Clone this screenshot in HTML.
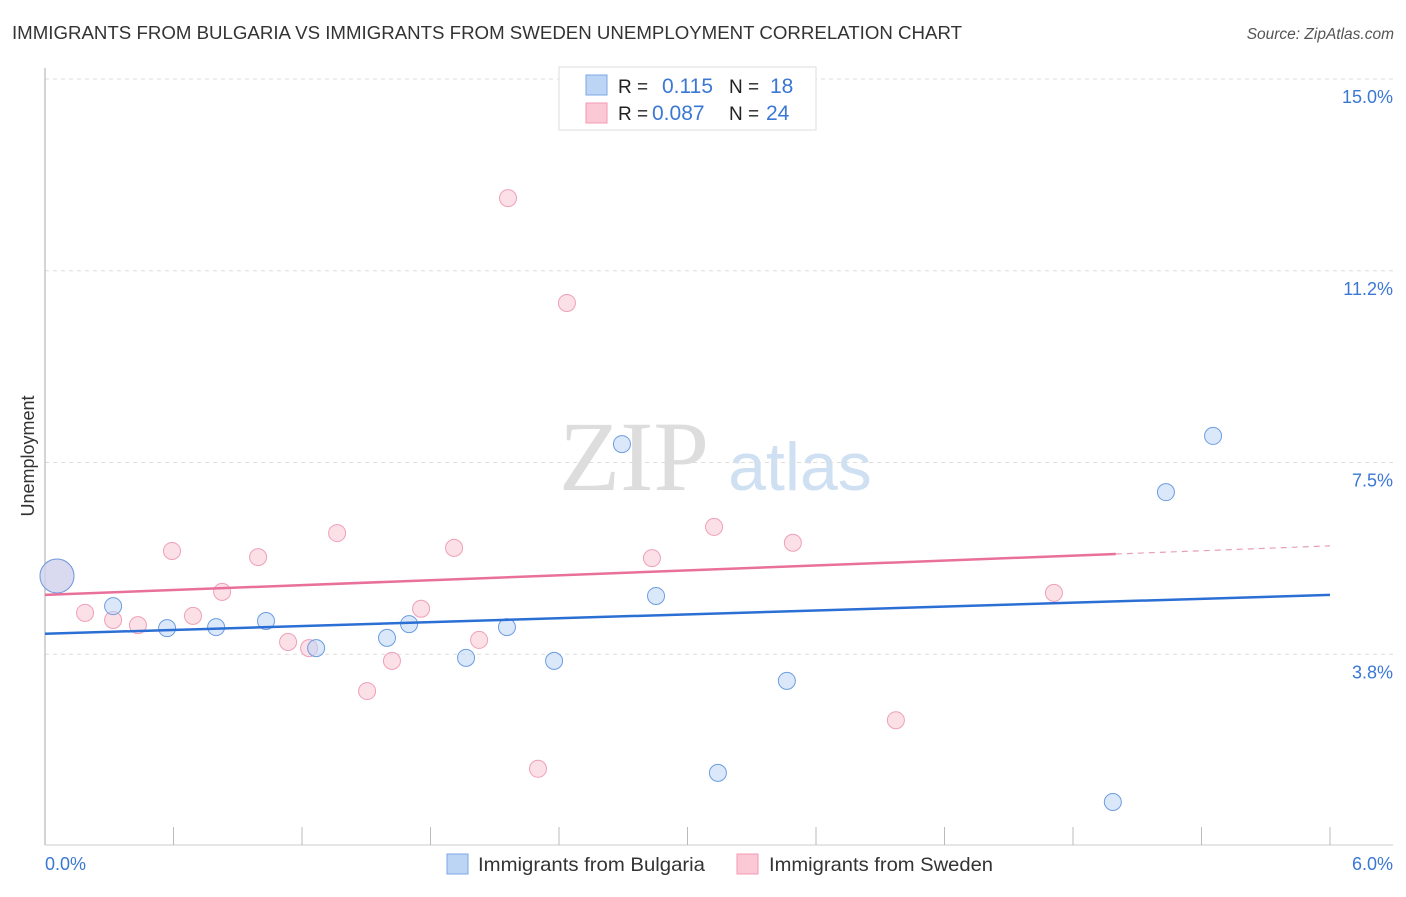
<!DOCTYPE html>
<html><head><meta charset="utf-8"><style>
body{margin:0;background:#fff;font-family:"Liberation Sans",sans-serif;}
svg text{font-family:"Liberation Sans",sans-serif;}
</style></head><body>
<svg width="1406" height="892" xmlns="http://www.w3.org/2000/svg" id="chart">
<text x="12" y="39" font-size="18" fill="#333" textLength="950" lengthAdjust="spacingAndGlyphs">IMMIGRANTS FROM BULGARIA VS IMMIGRANTS FROM SWEDEN UNEMPLOYMENT CORRELATION CHART</text>
<text x="1394" y="39" font-size="15.5" font-style="italic" fill="#555" text-anchor="end">Source: ZipAtlas.com</text>
<text x="634" y="490" font-size="100" style="font-family:'Liberation Serif',serif" fill="#ddd" text-anchor="middle">ZIP</text>
<text x="800" y="490" font-size="68" fill="#cfe0f3" text-anchor="middle">atlas</text>
<text transform="translate(34,456) rotate(-90)" font-size="18" fill="#333" text-anchor="middle">Unemployment</text>
<g id="grid"></g><g id="axes"></g><g id="marks"></g>
<g>
<rect x="559" y="67" width="257" height="63" fill="#fff" stroke="#ddd"/>
<rect x="586" y="75" width="21" height="20" fill="#bcd5f5" stroke="#7aa7e6"/>
<rect x="586" y="103" width="21" height="20" fill="#fbc8d6" stroke="#f09ab3"/>
<text x="618" y="93" font-size="19" fill="#222">R = </text><text x="662" y="93" font-size="21" fill="#3a78d4">0.115</text>
<text x="729" y="93" font-size="19" fill="#222">N = </text><text x="770" y="93" font-size="21" fill="#3a78d4">18</text>
<text x="618" y="120" font-size="19" fill="#222">R = </text><text x="652" y="120" font-size="21" fill="#3a78d4">0.087</text>
<text x="729" y="120" font-size="19" fill="#222">N = </text><text x="766" y="120" font-size="21" fill="#3a78d4">24</text>
</g>
<g>
<rect x="447" y="854" width="21" height="20" fill="#bcd5f5" stroke="#7aa7e6"/>
<text x="478" y="871" font-size="19.5" fill="#333" textLength="227" lengthAdjust="spacingAndGlyphs">Immigrants from Bulgaria</text>
<rect x="737" y="854" width="21" height="20" fill="#fbc8d6" stroke="#f09ab3"/>
<text x="769" y="871" font-size="19.5" fill="#333" textLength="224" lengthAdjust="spacingAndGlyphs">Immigrants from Sweden</text>
</g>
</svg>
<script>
const yTicks=[3.75,7.5,11.25,15];
const yTickLabels=["3.8%","7.5%","11.2%","15.0%"];
const xTickLabels=["0.0%","6.0%"];
const bulgariaX=[0.056,0.318,0.570,0.799,1.032,1.266,1.597,1.700,1.966,2.157,2.377,2.694,2.853,3.142,3.464,4.986,5.234,5.454];
const bulgariaY=[5.28,4.69,4.26,4.28,4.40,3.87,4.07,4.34,3.68,4.28,3.62,7.86,4.89,1.43,3.23,0.86,6.92,8.02];
const swedenX=[0.056,0.187,0.318,0.434,0.593,0.691,0.827,0.995,1.135,1.233,1.364,1.504,1.620,1.756,1.910,2.027,2.162,2.302,2.437,2.834,3.124,3.492,3.973,4.711];
const swedenY=[5.28,4.56,4.42,4.32,5.77,4.50,4.97,5.65,3.99,3.87,6.12,3.03,3.62,4.64,5.83,4.03,12.67,1.51,10.62,5.63,6.24,5.93,2.46,4.95];
const bulgariaTrend=[4.15,4.91];
const swedenTrend=[4.91,5.87];
const swedenTrendSolidEnd=5.0;
const NS="http://www.w3.org/2000/svg";
const X=v=>45+v/6*1285, Y=v=>846-v/15*767;
function mk(t,a,p){const e=document.createElementNS(NS,t);for(const k in a)e.setAttribute(k,a[k]);p.appendChild(e);return e;}
const grid=document.getElementById('grid'),axes=document.getElementById('axes'),marks=document.getElementById('marks');
yTicks.forEach((t,i)=>{
 const l=mk('line',{x1:45,x2:1393,y1:Y(t),y2:Y(t),stroke:'#ddd','stroke-dasharray':'4,4'},grid);
 
 
 const tx=mk('text',{x:1393,y:Y(t)+24,'font-size':18,fill:'#3a78d4','text-anchor':'end'},grid);tx.textContent=yTickLabels[i];
 
 
});
mk('line',{x1:45,x2:45,y1:68,y2:845,stroke:'#aaa'},axes);
mk('line',{x1:45,x2:1393,y1:845,y2:845,stroke:'#ccc'},axes);
for(let i=1;i<=10;i++){const l=mk('line',{x1:X(i*0.6),x2:X(i*0.6),y1:827,y2:845,stroke:'#bbb'},axes);
 
 }
[[45,'start',0],[1393,'end',1]].forEach(([x,a,i])=>{const t=mk('text',{x:x,y:870,'font-size':18,fill:'#3a78d4','text-anchor':a},axes);t.textContent=xTickLabels[i];
 
 });
function pts(xs,ys,fill,stroke,name){xs.forEach((x,i)=>{const c=mk('circle',{cx:X(x),cy:Y(ys[i]),r:i==0?17:8.5,fill:fill,'fill-opacity':0.55,stroke:stroke,'stroke-width':1},marks);
 
 });}
pts(swedenX,swedenY,'#f9c6d4','#eea0b8','sweden-point');
pts(bulgariaX,bulgariaY,'#bcd5f5','#6d9de0','bulgaria-point');
const bl=mk('line',{x1:X(0),y1:Y(bulgariaTrend[0]),x2:X(6),y2:Y(bulgariaTrend[1]),stroke:'#2b6fd4','stroke-width':2.5},marks);


const sv=v=>swedenTrend[0]+(swedenTrend[1]-swedenTrend[0])*v/6;
const sl=mk('line',{x1:X(0),y1:Y(swedenTrend[0]),x2:X(swedenTrendSolidEnd),y2:Y(sv(swedenTrendSolidEnd)),stroke:'#e8709a','stroke-width':2.5},marks);


const sd=mk('line',{x1:X(swedenTrendSolidEnd),y1:Y(sv(swedenTrendSolidEnd)),x2:X(6),y2:Y(swedenTrend[1]),stroke:'#e8a0b8','stroke-width':1.2,'stroke-dasharray':'6,5'},marks);


</script>
</body></html>
